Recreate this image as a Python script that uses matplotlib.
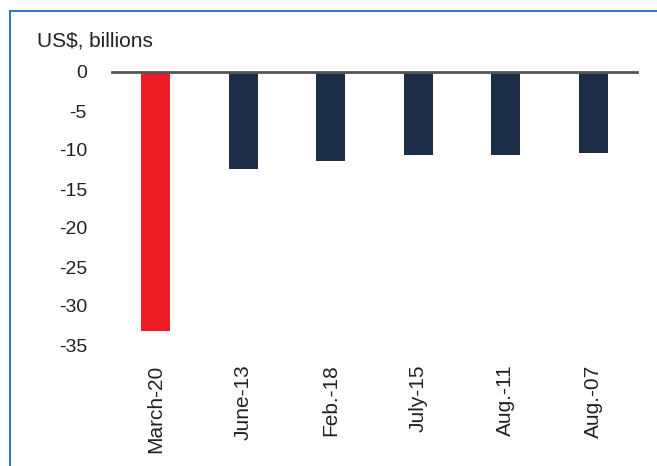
import matplotlib
matplotlib.use("Agg")
import matplotlib.pyplot as plt
from matplotlib.lines import Line2D

plt.rcParams['font.family'] = ['Liberation Sans', 'DejaVu Sans']

# data
labels = ["March-20", "June-13", "Feb.-18", "July-15", "Aug.-11", "Aug.-07"]
values = [-33.2, -12.4, -11.4, -10.6, -10.6, -10.4]
colors = ["#ee1c25", "#1c2d48", "#1c2d48", "#1c2d48", "#1c2d48", "#1c2d48"]
yticks = [0, -5, -10, -15, -20, -25, -30, -35]

W, H = 657, 466
fig = plt.figure(figsize=(W / 100, H / 100), dpi=100)
ax = fig.add_axes([112 / W, 1 - 345 / H, (637 - 112) / W, (345 - 72) / H])

x = list(range(len(labels)))
ax.bar(x, values, width=0.33, color=colors, zorder=2)
ax.axhline(0, color="#555555", lw=2, zorder=3, clip_on=False)

ax.set_xlim(-0.5, len(labels) - 0.5)
ax.set_ylim(-35, 0)
ax.set_yticks(yticks)
ax.set_yticklabels([str(t) for t in yticks], fontsize=14, color="#222222")
ax.set_xticks(x)
ax.set_xticklabels(labels, rotation=90, fontsize=15, color="#222222")
ax.tick_params(axis="y", length=0, pad=18)
ax.tick_params(axis="x", length=0, pad=14)
for s in ax.spines.values():
    s.set_visible(False)

fig.text(37 / W, 1 - 41 / H, "US$, billions", fontsize=15, va="center", ha="left", color="#222222")

# blue frame (top + left)
fc = "#2a78c0"
fig.add_artist(Line2D([10 / W, 1], [1 - 11 / H, 1 - 11 / H], color=fc, lw=1.4, transform=fig.transFigure))
fig.add_artist(Line2D([10 / W, 10 / W], [0, 1 - 11 / H], color=fc, lw=1.4, transform=fig.transFigure))

fig.savefig("out.png", dpi=100)
